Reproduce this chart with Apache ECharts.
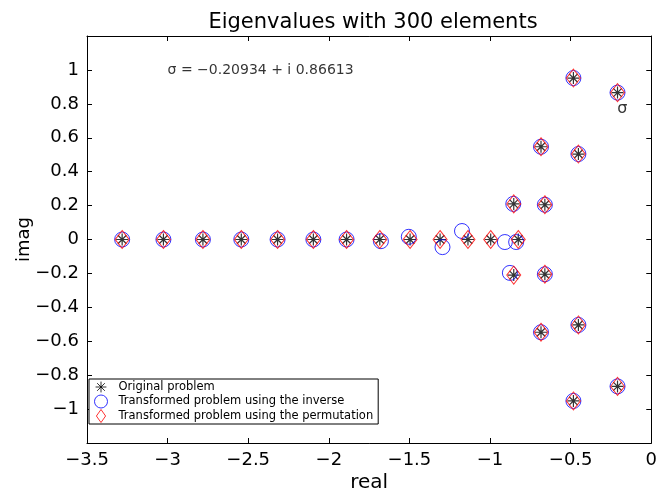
<!DOCTYPE html>
<html><head><meta charset="utf-8">
<script src="https://cdn.jsdelivr.net/npm/echarts@6/dist/echarts.min.js"></script>
<style>html,body{margin:0;padding:0;background:#fff}#c{width:660px;height:498px}</style>
</head><body><div id="c"></div>
<script>
// ---------- data ----------
const seriesNames = [
  'Original problem',
  'Transformed problem using the inverse',
  'Transformed problem using the permutation'
];
const titleText = 'Eigenvalues with 300 elements';
const xName = 'real';
const yName = 'imag';

const origReal = [-3.282, -3.026, -2.781, -2.543, -2.318, -2.096, -1.890, -1.684, -1.496, -1.310, -1.137, -0.996, -0.825,
                  -0.853, -0.853, -0.684, -0.684, -0.660, -0.660, -0.483, -0.483, -0.452, -0.452, -0.20934, -0.20934];
const origImag = [0, 0, 0, 0, 0, 0, 0, 0, 0, 0, 0, 0, 0,
                  0.21, -0.21, 0.547, -0.547, 0.205, -0.205, 0.952, -0.952, 0.504, -0.504, 0.86613, -0.86613];

const invReal = [-3.282, -3.026, -2.781, -2.543, -2.318, -2.096, -1.890, -1.677, -1.504, -1.295, -1.174, -0.908, -0.838,
                 -0.856, -0.877, -0.684, -0.684, -0.660, -0.660, -0.483, -0.483, -0.452, -0.452, -0.20934, -0.20934];
const invImag = [0, 0, 0, 0, 0, 0, 0, -0.01, 0.016, -0.045, 0.05, -0.015, -0.015,
                 0.21, -0.197, 0.547, -0.547, 0.205, -0.205, 0.952, -0.952, 0.504, -0.504, 0.86613, -0.86613];

const permReal = origReal.slice();
const permImag = origImag.slice();

const xTicks = [-3.5, -3, -2.5, -2, -1.5, -1, -0.5, 0];
const xTickLabels = ['\u22123.5', '\u22123', '\u22122.5', '\u22122', '\u22121.5', '\u22121', '\u22120.5', '0'];
const yTicks = [-1.2, -1, -0.8, -0.6, -0.4, -0.2, 0, 0.2, 0.4, 0.6, 0.8, 1, 1.2];
const yTickLabels = ['', '\u22121', '\u22120.8', '\u22120.6', '\u22120.4', '\u22120.2', '0', '0.2', '0.4', '0.6', '0.8', '1', ''];

const annotText = ['\u03c3 = \u22120.20934 + i 0.86613', '\u03c3'];
const annotReal = [-3.0, -0.18];
const annotImag = [1.0, 0.772];

// ---------- helpers ----------
const zip = (a, b) => a.map((v, i) => [v, b[i]]);
const lookup = (ticks, labels) => v => {
  const i = ticks.findIndex(t => Math.abs(t - v) < 1e-6);
  return i >= 0 ? labels[i] : '';
};
const starPath = 'path://M0,-10L0,10M-10,0L10,0M-7.07,-7.07L7.07,7.07M-7.07,7.07L7.07,-7.07';
const starLegend = 'path://M-12,-12M12,12M0,-10L0,10M-10,0L10,0M-7.07,-7.07L7.07,7.07M-7.07,7.07L7.07,-7.07';
const diamondLegend = 'path://M0,-12L8.5,0L0,12L-8.5,0Z';

const FONT = 'DejaVu Sans';
const axisCommon = {
  axisLine: {show: true, onZero: false, lineStyle: {color: '#000', width: 1}},
  axisTick: {show: true, inside: true, length: 5, lineStyle: {color: '#000', width: 1}},
  splitLine: {show: false}
};

const chart = echarts.init(document.getElementById('c'), null, {renderer: 'canvas'});
chart.setOption({
  animation: false,
  backgroundColor: '#fff',
  title: {
    text: titleText, left: 373, top: 12, textAlign: 'center', padding: 0,
    textStyle: {fontFamily: FONT, fontSize: 21, fontWeight: 'normal', color: '#000'}
  },
  grid: {left: 87, right: 4, top: 36, bottom: 55, containLabel: false},
  legend: {
    orient: 'vertical', left: 89, top: 379,
    backgroundColor: '#fff', borderColor: '#000', borderWidth: 1,
    padding: [1, 5, 1, 5], itemWidth: 25, itemHeight: 13, itemGap: 0.5,
    selectedMode: false,
    textStyle: {fontFamily: FONT, fontSize: 11.5, color: '#000', lineHeight: 12},
    itemStyle: {borderWidth: 1},
    data: [
      {name: seriesNames[0], icon: starLegend},
      {name: seriesNames[1], icon: 'circle'},
      {name: seriesNames[2], icon: diamondLegend}
    ]
  },
  xAxis: [
    Object.assign({}, axisCommon, {
      type: 'value', position: 'bottom', min: -3.5, max: 0, interval: 0.5,
      name: xName, nameLocation: 'middle', nameGap: 30, nameMoveOverlap: false,
      nameTextStyle: {fontFamily: FONT, fontSize: 20, color: '#000'},
      axisLabel: {show: true, margin: 8, fontFamily: FONT, fontSize: 18, color: '#000',
                  formatter: lookup(xTicks, xTickLabels), showMinLabel: true, showMaxLabel: true}
    }),
    Object.assign({}, axisCommon, {
      type: 'value', position: 'top', min: -3.5, max: 0, interval: 0.5,
      axisLabel: {show: false}
    })
  ],
  yAxis: [
    Object.assign({}, axisCommon, {
      type: 'value', position: 'left', min: -1.2, max: 1.2, interval: 0.2,
      name: yName, nameLocation: 'middle', nameGap: 54, nameRotate: 90, nameMoveOverlap: false,
      nameTextStyle: {fontFamily: FONT, fontSize: 18, color: '#000'},
      axisLabel: {show: true, margin: 8, fontFamily: FONT, fontSize: 18, color: '#000',
                  formatter: lookup(yTicks, yTickLabels)}
    }),
    Object.assign({}, axisCommon, {
      type: 'value', position: 'right', min: -1.2, max: 1.2, interval: 0.2,
      axisLabel: {show: false}
    })
  ],
  series: [
    {
      name: seriesNames[0], type: 'scatter', xAxisIndex: 0, yAxisIndex: 0,
      data: zip(origReal, origImag), symbol: starPath, symbolSize: 12,
      itemStyle: {color: 'transparent', borderColor: '#000', borderWidth: 1.2}, silent: true, z: 2
    },
    {
      name: seriesNames[1], type: 'scatter', xAxisIndex: 0, yAxisIndex: 0,
      data: zip(invReal, invImag), symbol: 'circle', symbolSize: 15,
      itemStyle: {color: 'transparent', borderColor: '#0000ff', borderWidth: 1}, silent: true, z: 3
    },
    {
      name: seriesNames[2], type: 'scatter', xAxisIndex: 0, yAxisIndex: 0,
      data: zip(permReal, permImag), symbol: 'diamond', symbolSize: [14, 18],
      itemStyle: {color: 'transparent', borderColor: '#ff0000', borderWidth: 1}, silent: true, z: 4
    },
    {
      name: 'annotations', type: 'scatter', xAxisIndex: 0, yAxisIndex: 0,
      symbolSize: 0, silent: true, z: 5,
      data: annotText.map((t, i) => ({
        value: [annotReal[i], annotImag[i]],
        label: {
          show: true, formatter: t,
          position: i === 0 ? 'right' : 'inside', distance: 0,
          fontFamily: FONT, fontSize: i === 0 ? 14 : 16, color: '#000'
        }
      }))
    }
  ]
});
</script>
</body></html>
